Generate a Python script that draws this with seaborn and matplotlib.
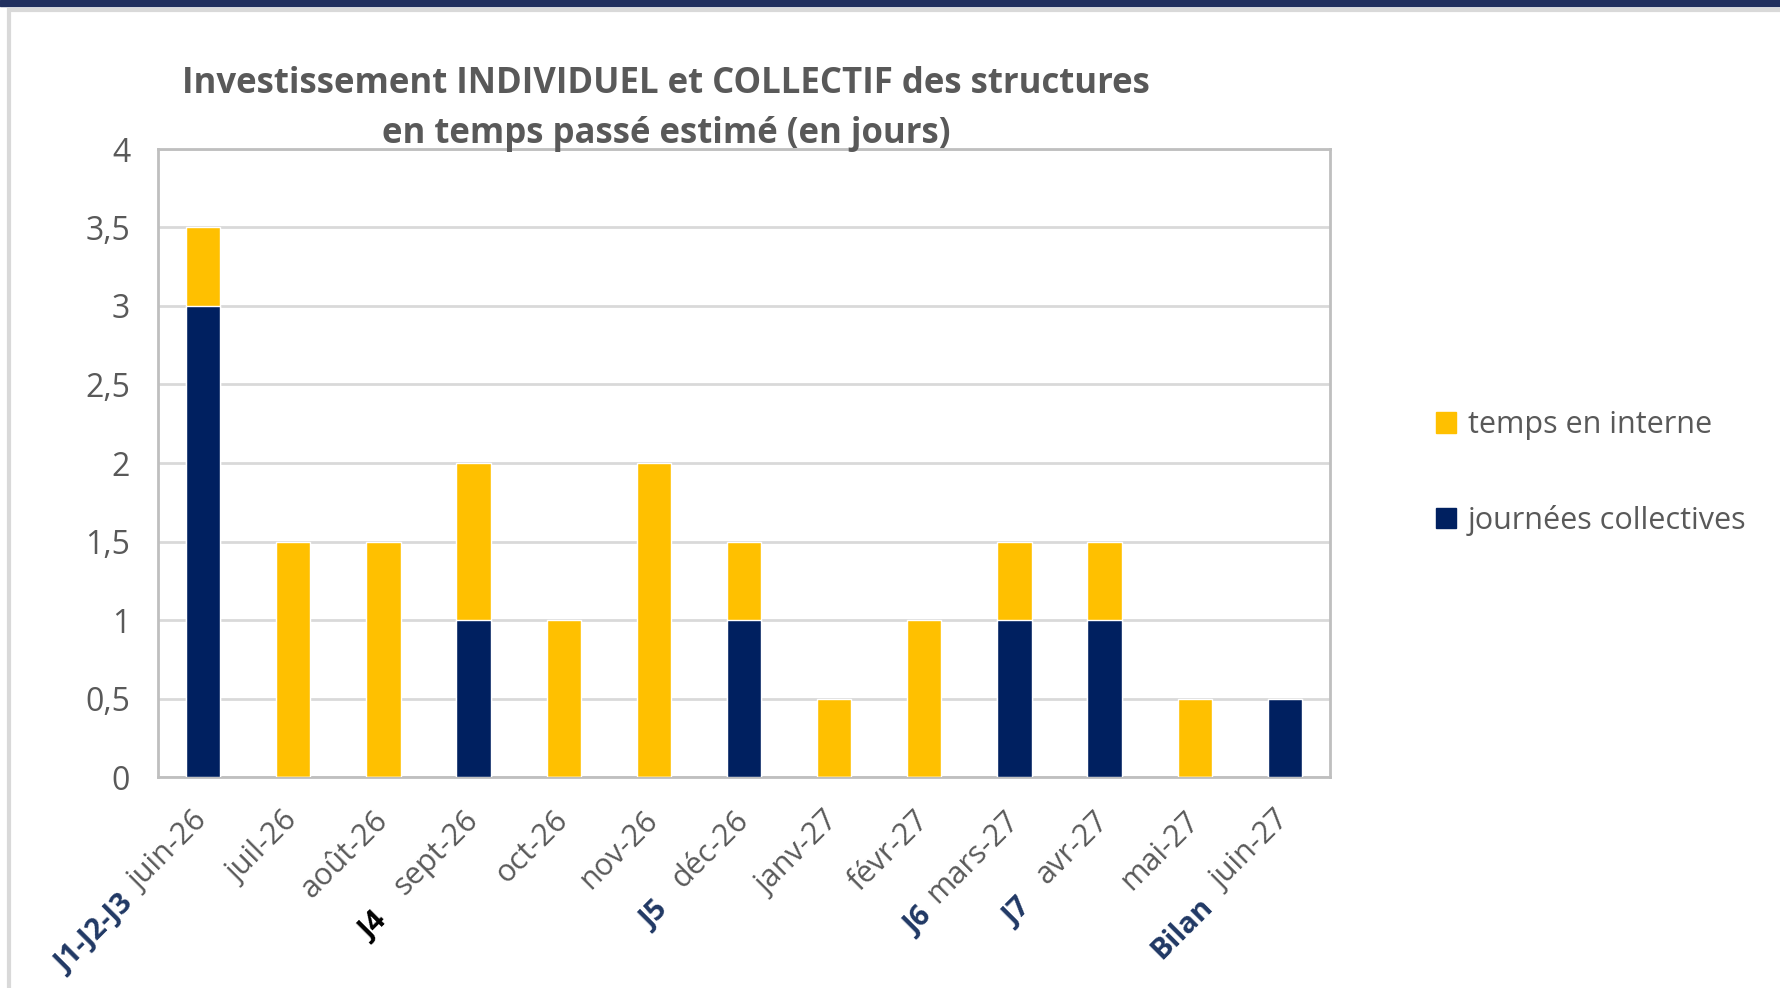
import matplotlib
matplotlib.use("Agg")
import matplotlib.pyplot as plt
import matplotlib.patches as mpatches
from matplotlib.transforms import IdentityTransform
import numpy as np
import pandas as pd
import seaborn as sns

# ---- data ----
months = ["juin-26", "juil-26", "août-26", "sept-26", "oct-26", "nov-26", "déc-26",
          "janv-27", "févr-27", "mars-27", "avr-27", "mai-27", "juin-27"]
prefixes = ["J1-J2-J3", "", "", "J4", "", "", "J5", "", "", "J6", "J7", "", "Bilan"]
collectives = [3, 0, 0, 1, 0, 0, 1, 0, 0, 1, 1, 0, 0.5]
interne = [0.5, 1.5, 1.5, 1, 1, 2, 0.5, 0.5, 1, 0.5, 0.5, 0.5, 0]
series_names = ["temps en interne", "journées collectives"]
title = "Investissement INDIVIDUEL et COLLECTIF des structures\nen temps passé estimé (en jours)"
yticks = [0, 0.5, 1, 1.5, 2, 2.5, 3, 3.5, 4]

YELLOW = "#FFC000"
NAVY = "#002060"
GREY_TXT = "#595959"
PREFIX_NAVY = "#203864"
FS = 22

sns.set_theme(style="white")
plt.rcParams["font.family"] = ["Open Sans", "DejaVu Sans"]

df = pd.DataFrame({"mois": months, "coll": collectives, "int": interne})
df["total"] = df["coll"] + df["int"]

fig = plt.figure(figsize=(17.8, 9.88), dpi=100)
ax = fig.add_axes([158/1780, 1-777/988, (1330-158)/1780, (777-149)/988])

sns.barplot(data=df, x="mois", y="total", color=YELLOW, saturation=1, width=0.38, ax=ax, zorder=3)
sns.barplot(data=df, x="mois", y="coll", color=NAVY, saturation=1, width=0.38, ax=ax, zorder=4)

ax.set_ylim(0, 4)
ax.set_yticks(yticks)
ax.set_yticklabels([f"{v:g}".replace(".", ",") for v in yticks], fontsize=FS + 1, color=GREY_TXT)
ax.set_xlabel("")
ax.set_ylabel("")
ax.set_xlim(-0.5, len(months) - 0.5)
ax.grid(axis="y", color="#D9D9D9", linewidth=2, zorder=0)
ax.set_axisbelow(True)
for s in ax.spines.values():
    s.set_visible(True)
    s.set_color("#BFBFBF")
    s.set_linewidth(2)
ax.tick_params(axis="y", length=0, pad=20)
ax.tick_params(axis="x", length=0, pad=28)
ax.set_xticks(range(len(months)))
ax.set_xticklabels(months, rotation=45, ha="right", va="center", rotation_mode="anchor",
                   fontsize=FS, color=GREY_TXT)

# legend
handles = [mpatches.Patch(color=YELLOW), mpatches.Patch(color=NAVY)]
leg = fig.legend(handles, series_names, loc="center left",
                 bbox_to_anchor=(1436/1780, 1-473/988), frameon=False,
                 borderaxespad=0, borderpad=0,
                 fontsize=FS, labelcolor=GREY_TXT, handlelength=0.65, handleheight=0.65,
                 handletextpad=0.4, labelspacing=2.1)

# title
fig.text(666/1780, 1-109/988, title, ha="center", va="center", fontsize=25,
         fontweight="bold", color=GREY_TXT, linespacing=1.5)

# frame decorations
fig.patches.append(mpatches.Rectangle((0, 1-6/988), 1, 6/988, transform=fig.transFigure,
                                      color="#21305F", zorder=0))
fig.patches.append(mpatches.Rectangle((9/1780, -0.1), 1.2, 1 - 10/988 + 0.1,
                                      transform=fig.transFigure, fill=False,
                                      edgecolor="#D9D9D9", linewidth=3, zorder=0))

# bold prefixes before month labels
gaps = [14, 0, 0, 30, 0, 0, 26, 0, 0, 13, 28, 0, 18]
perp = 7
fig.canvas.draw()
renderer = fig.canvas.get_renderer()
c, s = np.cos(np.pi/4), np.sin(np.pi/4)
for lab, pre, gap in zip(ax.get_xticklabels(), prefixes, gaps):
    if not pre:
        continue
    anchor = lab.get_transform().transform(lab.get_position())
    tmp = fig.text(0, 0, lab.get_text(), fontsize=FS)
    w = tmp.get_window_extent(renderer).width
    tmp.remove()
    d = w + gap
    px = anchor[0] - d*c + perp*c
    py = anchor[1] - d*s - perp*s
    fig.text(px, py, pre, transform=IdentityTransform(), rotation=45, ha="right",
             va="center", rotation_mode="anchor", fontsize=FS - 1, fontweight="bold",
             color="black" if pre == "J4" else PREFIX_NAVY)

fig.savefig("out.png", dpi=100, facecolor="white")
